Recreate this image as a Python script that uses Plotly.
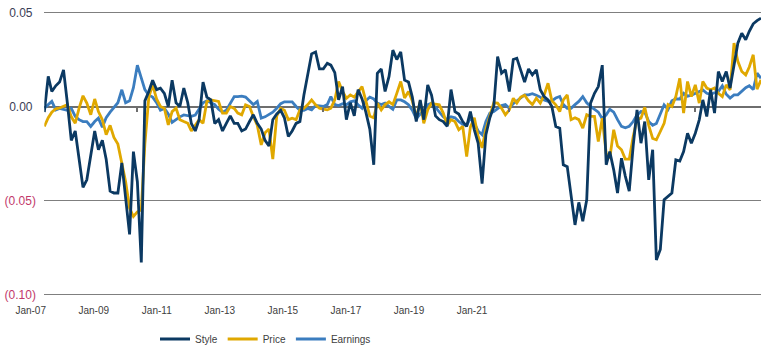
import pandas as pd
import plotly.graph_objects as go

# ---------------- data (monthly, Jan-2007 .. Jun-2022) ----------------
start_month = "2007-01-01"
n_months = 186

style = [
    -0.003, 0.016, 0.008, 0.011, 0.013, 0.0195, 0.002, -0.018, -0.013, -0.029,
    -0.043, -0.039, -0.027, -0.013, -0.023, -0.018, -0.028, -0.045, -0.046, -0.046,
    -0.030, -0.050, -0.068, -0.024, -0.040, -0.083, 0.003, 0.008, 0.014, 0.009,
    0.0098, 0.007, 0.000, 0.014, 0.002, 0.000, 0.0098, 0.002, -0.009, -0.013,
    -0.007, 0.013, 0.005, 0.0035, -0.009, -0.007, -0.013, -0.009, -0.005, -0.009,
    -0.009, -0.013, -0.012, -0.008, -0.0044, -0.009, -0.012, -0.018, -0.021, -0.007,
    -0.004, -0.002, -0.006, -0.016, -0.013, -0.009, -0.008, 0.006, 0.0165, 0.028,
    0.029, 0.020, 0.020, 0.023, 0.022, 0.018, 0.0035, 0.0106, -0.007, 0.002,
    -0.005, 0.009, 0.004, -0.003, -0.012, -0.031, 0.0177, 0.020, 0.008, 0.016,
    0.030, 0.025, 0.029, 0.014, 0.013, 0.005, -0.008, 0.0035, -0.007, 0.0115,
    0.006, -0.005, -0.007, -0.008, -0.0106, 0.009, -0.0027, -0.004, -0.008, -0.0106,
    -0.0027, -0.0124, -0.0195, -0.041, -0.015, -0.006, 0.000, 0.0266, 0.0177, 0.0195,
    0.008, 0.025, 0.0257, 0.0195, 0.013, 0.020, 0.0168, 0.0195, 0.0089, 0.0053,
    0.0035, 0.000, -0.0106, -0.0115, -0.031, -0.032, -0.046, -0.063, -0.051, -0.061,
    -0.0496, 0.0018, 0.007, 0.0106, 0.022, -0.031, -0.024, -0.0337, -0.046, -0.0275,
    -0.037, -0.045, -0.021, -0.0018, -0.0195, -0.008, -0.039, -0.023, -0.0816, -0.076,
    -0.0496, -0.048, -0.046, -0.0284, -0.029, -0.024, -0.0142, -0.0195, -0.0142, -0.0071,
    0.0035, -0.0053, 0.0089, -0.0035, 0.0186, 0.0133, 0.0186, 0.0098, 0.023, 0.0337,
    0.039, 0.0355, 0.040, 0.044, 0.0457, 0.047,
]

price = [
    -0.0106, -0.006, -0.003, -0.0012, -0.0008, 0.000, 0.001, -0.0055, -0.0089, -0.001,
    0.0057, 0.0018, -0.0044, 0.004, -0.0027, -0.007, -0.015, -0.010, -0.0165, -0.020,
    -0.031, -0.040, -0.054, -0.0585, -0.056, -0.055, -0.020, 0.005, 0.0115, 0.004,
    0.000, -0.0009, -0.0098, -0.0027, -0.0009, -0.007, -0.008, -0.0089, -0.013, -0.010,
    -0.007, -0.0089, 0.0027, 0.0035, 0.003, 0.0027, -0.0035, -0.0035, 0.000, -0.001,
    -0.0035, -0.0044, 0.0009, 0.000, -0.0053, -0.010, -0.0204, -0.014, -0.012, -0.028,
    -0.005, -0.001, -0.002, -0.007, -0.0062, -0.007, -0.0018, -0.0009, 0.001, 0.0035,
    0.0009, -0.0009, -0.0014, -0.0018, -0.0009, 0.0035, 0.0133, 0.008, 0.0044, 0.0062,
    0.005, 0.008, 0.0106, 0.003, -0.005, -0.006, 0.0018, -0.0018, 0.001, 0.0025,
    0.001, 0.007, 0.0133, 0.0045, 0.008, 0.003, -0.006, 0.0027, -0.0089, -0.0018,
    0.0018, 0.0012, 0.0009, -0.0035, -0.010, -0.007, -0.008, -0.0124, -0.0106, -0.0266,
    -0.011, -0.006, -0.016, -0.022, -0.012, -0.005, 0.002, 0.0018, -0.001, -0.0044,
    -0.0018, 0.0044, 0.0018, 0.005, 0.006, 0.003, 0.001, 0.0044, 0.0018, 0.006,
    0.0124, 0.003, 0.0009, -0.0027, 0.0035, 0.0062, -0.007, -0.006, -0.007, -0.0115,
    -0.0044, -0.0053, -0.0053, -0.0186, -0.0062, -0.025, -0.0275, -0.0124, -0.021, -0.023,
    -0.028, -0.028, -0.016, -0.007, -0.0062, -0.0004, -0.010, -0.017, -0.0177, -0.0133,
    -0.009, 0.001, 0.000, 0.0053, 0.015, -0.0035, 0.0133, 0.0053, 0.0115, 0.0018,
    0.0133, 0.0098, 0.0089, 0.0098, 0.007, 0.0053, 0.0115, 0.0089, 0.0337, 0.024,
    0.0186, 0.0168, 0.021, 0.0275, 0.0092, 0.0142,
]

earnings = [
    -0.0009, 0.0009, 0.0027, -0.0018, -0.001, -0.0015, -0.002, -0.001, -0.0053, -0.007,
    -0.008, -0.008, -0.0106, -0.008, -0.0062, -0.011, -0.006, -0.003, -0.0005, 0.002,
    0.0089, 0.002, 0.003, 0.010, 0.022, 0.015, 0.009, 0.006, 0.005, 0.002,
    -0.002, -0.001, -0.004, -0.0085, -0.007, -0.0055, -0.0045, -0.0047, -0.0052, -0.0045,
    -0.001, 0.002, 0.003, 0.0018, 0.001, -0.0015, -0.003, -0.002, 0.002, 0.0053,
    0.0053, 0.0055, 0.005, 0.003, 0.001, 0.0027, -0.0062, -0.0055, -0.004, -0.003,
    -0.0009, 0.0015, 0.0025, 0.0027, 0.0025, 0.000, -0.002, -0.002, -0.001, -0.0018,
    0.0005, 0.0003, 0.000, 0.001, 0.0053, 0.001, 0.0005, 0.0015, 0.0009, 0.0025,
    0.003, 0.0009, -0.0009, 0.003, 0.005, 0.004, 0.0018, 0.001, 0.0018, 0.000,
    -0.0015, 0.0035, 0.0035, 0.0025, 0.001, -0.002, -0.0065, -0.004, -0.002, 0.001,
    0.0018, -0.0005, -0.003, -0.0055, -0.007, -0.0055, -0.006, -0.008, -0.0095, -0.010,
    -0.0062, -0.009, -0.013, -0.015, -0.008, -0.0035, -0.0027, -0.0012, 0.0005, 0.001,
    -0.0009, 0.0015, 0.003, 0.0045, 0.0062, 0.0062, 0.0068, 0.006, 0.005, 0.0035,
    0.0028, 0.003, 0.0045, 0.0053, 0.001, -0.001, -0.001, 0.001, 0.0027, 0.0053,
    0.002, 0.000, -0.0015, -0.003, -0.0065, -0.0044, -0.0015, -0.003, -0.007, -0.0106,
    -0.0113, -0.0105, -0.008, -0.0045, -0.0027, -0.003, -0.008, -0.010, -0.009, -0.004,
    0.0009, -0.0015, 0.003, 0.004, 0.004, 0.007, 0.0055, 0.006, 0.007, 0.008,
    0.0088, 0.007, 0.0065, 0.0073, 0.008, 0.011, 0.0065, 0.0045, 0.0062, 0.0062,
    0.008, 0.010, 0.011, 0.009, 0.0177, 0.015,
]

# x-axis labels as printed in the source chart (placed on their own label scale)
label_years = [2007, 2009, 2011, 2013, 2015, 2017, 2019, 2021]
label_text = ["Jan-07", "Jan-09", "Jan-11", "Jan-13", "Jan-15", "Jan-17", "Jan-19", "Jan-21"]
# tick marks on the zero axis
axis_tick_dates = ["2009-01-01", "2013-01-01", "2017-01-01", "2021-01-01"]

y_tickvals = [-0.10, -0.05, 0.00, 0.05]
y_ticklabels = ["(0.10)", "(0.05)", "0.00", "0.05"]

# ---------------- figure ----------------
dates = pd.date_range(start_month, periods=n_months, freq="MS")

NAVY = "#0b3962"
GOLD = "#e0a800"
BLUE = "#3b7dbf"
NEG = "#c2386a"
POS = "#3a3d55"
FONT = "Liberation Sans, Arial, sans-serif"

fig = go.Figure()
series = [("Earnings", earnings, BLUE, 3), ("Price", price, GOLD, 2), ("Style", style, NAVY, 1)]
for name, vals, col, rank in series:
    fig.add_trace(go.Scatter(
        x=dates, y=vals, mode="lines", name=name,
        line=dict(color=col, width=2.8), legendrank=rank,
        xaxis="x", yaxis="y",
    ))
# empty helper trace so that the label axis (x2/y2) is laid out
fig.add_trace(go.Scatter(x=[], y=[], xaxis="x2", yaxis="y2", showlegend=False,
                         hoverinfo="skip", mode="lines"))

y_min, y_max = -0.1008, 0.0508
ticktext = []
for v, t in zip(y_tickvals, y_ticklabels):
    if v < 0:
        ticktext.append(f'<span style="color:{NEG}">{t}</span>')
    else:
        ticktext.append(t + "\u00a0")

W, H = 770, 349
left_px, right_px = 44.3, 761

fig.update_layout(
    width=W, height=H,
    margin=dict(l=0, r=0, t=11.2, b=53.2, autoexpand=False),
    paper_bgcolor="white", plot_bgcolor="rgba(0,0,0,0)",
    showlegend=True,
    legend=dict(orientation="h", xref="container", yref="container",
                x=155 / W, xanchor="left", y=1 - 339 / H, yanchor="middle",
                font=dict(family=FONT, size=10, color="#404040"),
                bgcolor="rgba(0,0,0,0)", itemwidth=30),
    xaxis=dict(
        domain=[left_px / W, right_px / W], type="date",
        range=[dates[0], dates[-1]], automargin=False,
        anchor="free", position=(0 - y_min) / (y_max - y_min),
        showgrid=False, zeroline=False, showline=False,
        showticklabels=False, ticks="outside", ticklen=4, tickwidth=1.5,
        tickcolor="#6e6e6e", tickvals=axis_tick_dates,
    ),
    yaxis=dict(
        domain=[0, 1], anchor="x", range=[y_min, y_max], automargin=False,
        tickvals=y_tickvals, ticktext=ticktext,
        showgrid=True, gridcolor="#7f7f7f", gridwidth=1,
        zeroline=True, zerolinecolor="#6e6e6e", zerolinewidth=2,
        showline=False, ticks="outside", ticklen=5, tickcolor="rgba(0,0,0,0)",
        tickfont=dict(family=FONT, size=12, color=POS),
    ),
    xaxis2=dict(
        domain=[0, 1], anchor="y2", type="linear", automargin=False,
        range=[2006.026, 2030.455],
        tickvals=label_years, ticktext=label_text,
        showgrid=False, zeroline=False, showline=False,
        ticks="outside", ticklen=5, tickcolor="rgba(0,0,0,0)",
        tickfont=dict(family=FONT, size=10, color="#404040"),
    ),
    yaxis2=dict(domain=[0, 1], anchor="x2", range=[0, 1], visible=False,
                showgrid=False, automargin=False),
)

fig.write_html("out.html")
